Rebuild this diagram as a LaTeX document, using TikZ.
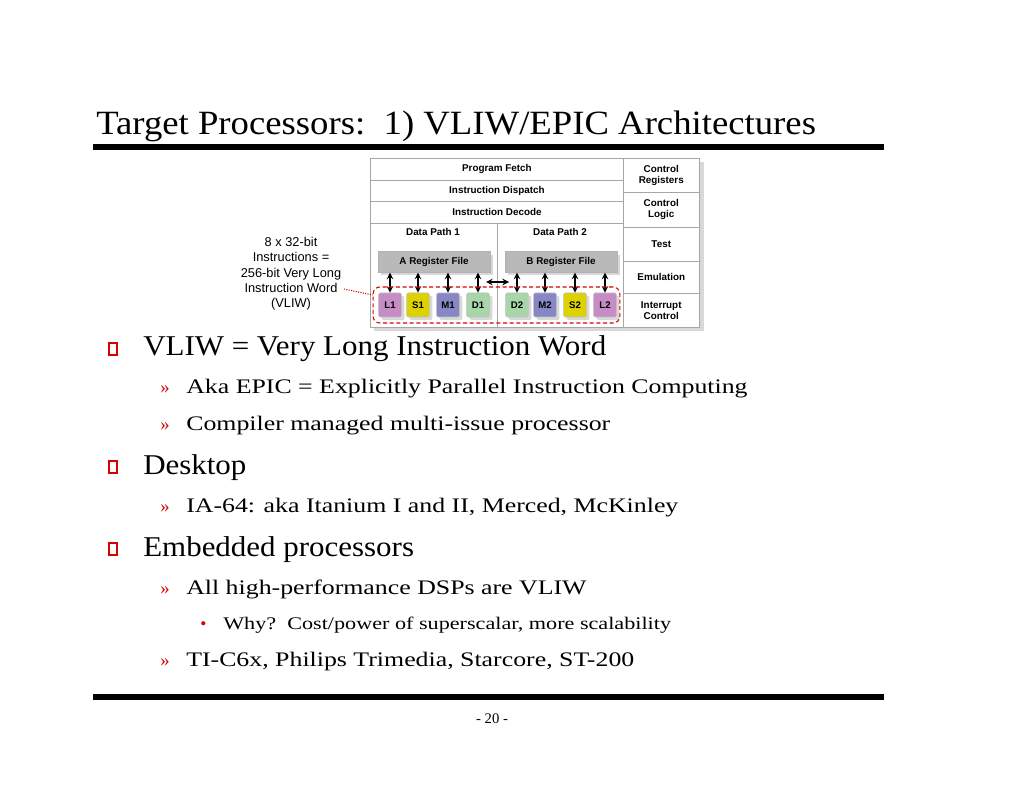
\documentclass[tikz,border=0pt]{standalone}
\usepackage{fontspec}
\setmainfont{Liberation Serif}
\newfontfamily\diagfont{Liberation Sans}
\newfontfamily\widefont[FakeStretch=1.25]{Liberation Serif}
\newfontfamily\midfont[FakeStretch=1.08]{Liberation Serif}
\usetikzlibrary{positioning, shadows}

\begin{document}
\begin{tikzpicture}[x=0.75pt, y=-0.75pt]
    \tikzset{
        cell/.style = {draw=gray!70, fill=white, font=\diagfont\bfseries\fontsize{7.4}{8.4}\selectfont, align=center, inner sep=0},
        regfile/.style = {fill=gray!55, draw=gray!60, font=\diagfont\bfseries\fontsize{7.4}{8.4}\selectfont, minimum width=84pt, minimum height=15.5pt, drop shadow={opacity=0.3}},
        unit/.style = {draw=gray!50, font=\diagfont\bfseries\fontsize{7.2}{8.4}\selectfont, minimum width=17pt, minimum height=18pt, inner sep=0, drop shadow={opacity=0.3}, rounded corners=1pt},
        biarrow/.style = {very thick, <->, >=stealth},
        lvlone/.style = {anchor=base west, font=\midfont\fontsize{21.5}{24}\selectfont, inner sep=0},
        lvltwo/.style = {anchor=base west, font=\widefont\fontsize{15.5}{18}\selectfont, inner sep=0},
        lvlthree/.style = {anchor=base west, font=\widefont\fontsize{13.3}{15}\selectfont, inner sep=0},
        sqbullet/.style = {draw=red!85!black, thick, minimum width=6pt, minimum height=9pt, inner sep=0},
        chevron/.style = {anchor=base west, text=red!85!black, font=\fontsize{14}{16}\selectfont, inner sep=0}
    }
    \useasboundingbox (0,0) rectangle (1024,791);

    % title and rules
    \node (title) [anchor=base west, inner sep=0, font=\midfont\fontsize{25.5}{28}\selectfont] at (96,135) {Target Processors:\ \ 1) VLIW/EPIC Architectures};
    \draw [line width=3.8pt] (93,147) -- (884,147);
    \draw [line width=3.8pt] (93,697) -- (884,697);
    \node (page) [font=\fontsize{11}{13}\selectfont] at (492,719) {- 20 -};

    % processor block diagram
    \fill [gray!50, opacity=0.6] (374,162) rectangle (704,331);
    \node (fetch) [cell, minimum width=190pt, minimum height=16.5pt, anchor=north west] at (370,158) {Program Fetch};
    \node (dispatch) [cell, minimum width=190pt, minimum height=16pt, anchor=north west] at (370,180) {Instruction Dispatch};
    \node (decode) [cell, minimum width=190pt, minimum height=16.5pt, anchor=north west] at (370,201) {Instruction Decode};
    \node (dp1) [cell, minimum width=95.25pt, minimum height=78pt, anchor=north west] at (370,223) {};
    \node (dp2) [cell, minimum width=94.5pt, minimum height=78pt, anchor=north west] at (497,223) {};
    \node [font=\diagfont\bfseries\fontsize{7.4}{8.4}\selectfont] at (433,232) {Data Path 1};
    \node [font=\diagfont\bfseries\fontsize{7.4}{8.4}\selectfont] at (560,232) {Data Path 2};
    \node (creg) [cell, minimum width=57pt, minimum height=25.5pt, anchor=north west] at (623,158) {Control\\Registers};
    \node (clogic) [cell, minimum width=57pt, minimum height=26.25pt, anchor=north west] at (623,192) {Control\\Logic};
    \node (test) [cell, minimum width=57pt, minimum height=25.5pt, anchor=north west] at (623,227) {Test};
    \node (emul) [cell, minimum width=57pt, minimum height=24pt, anchor=north west] at (623,261) {Emulation};
    \node (intr) [cell, minimum width=57pt, minimum height=25.5pt, anchor=north west] at (623,293) {Interrupt\\Control};

    \node (rfa) [regfile] at (434,262) {A Register File};
    \node (rfb) [regfile] at (561,262) {B Register File};

    \node (L1) [unit, fill=violet!45] at (390,305) {L1};
    \node (S1) [unit, fill=yellow!70!olive] at (418,305) {S1};
    \node (M1) [unit, fill=blue!35!gray!70] at (448,305) {M1};
    \node (D1) [unit, fill=green!35!gray!50] at (478,305) {D1};
    \node (D2) [unit, fill=green!35!gray!50] at (517,305) {D2};
    \node (M2) [unit, fill=blue!35!gray!70] at (545,305) {M2};
    \node (S2) [unit, fill=yellow!70!olive] at (575,305) {S2};
    \node (L2) [unit, fill=violet!45] at (605,305) {L2};

    \foreach \u in {L1, S1, M1, D1} {
        \draw [biarrow] (rfa.south -| \u) -- (\u.north);
    }
    \foreach \u in {D2, M2, S2, L2} {
        \draw [biarrow] (rfb.south -| \u) -- (\u.north);
    }
    \coordinate (xl) at (486,282);
    \coordinate (xr) at (509,282);
    \draw [biarrow] (xl) -- (xr);

    \node (vliw) [draw=red!85!black, densely dashed, thick, rounded corners=5pt, minimum width=185pt, minimum height=27pt] at (496.5,305) {};
    \node (label) [font=\diagfont\fontsize{9.6}{11.5}\selectfont, align=center] at (291,274) {8 x 32-bit\\Instructions =\\256-bit Very Long\\Instruction Word\\(VLIW)};
    \draw [red!85!black, densely dotted, thick] (344,289) -- (vliw.west |- 0,295);

    % bullet list
    \node (b1) [sqbullet] at (113,349) {};
    \node (t1) [lvlone] at (143,356) {VLIW = Very Long Instruction Word};
    \node (c1) [chevron] at (160,393) {»};
    \node (t11) [lvltwo] at (186,393) {Aka EPIC = Explicitly Parallel Instruction Computing};
    \node (c2) [chevron] at (160,430) {»};
    \node (t12) [lvltwo] at (186,430) {Compiler managed multi-issue processor};
    \node (b2) [sqbullet] at (113,467) {};
    \node (t2) [lvlone] at (143,474) {Desktop};
    \node (c3) [chevron] at (160,512) {»};
    \node (t21) [lvltwo] at (186,512) {IA-64: aka Itanium I and II, Merced, McKinley};
    \node (b3) [sqbullet] at (113,549) {};
    \node (t3) [lvlone] at (143,556) {Embedded processors};
    \node (c4) [chevron] at (160,594) {»};
    \node (t31) [lvltwo] at (186,594) {All high-performance DSPs are VLIW};
    \node (d1) [anchor=base west, text=red!85!black, inner sep=0, font=\fontsize{13}{15}\selectfont] at (200,629) {\textbullet};
    \node (t311) [lvlthree] at (223,629) {Why?\ \ Cost/power of superscalar, more scalability};
    \node (c5) [chevron] at (160,666) {»};
    \node (t32) [lvltwo] at (186,666) {TI-C6x, Philips Trimedia, Starcore, ST-200};
\end{tikzpicture}
\end{document}
